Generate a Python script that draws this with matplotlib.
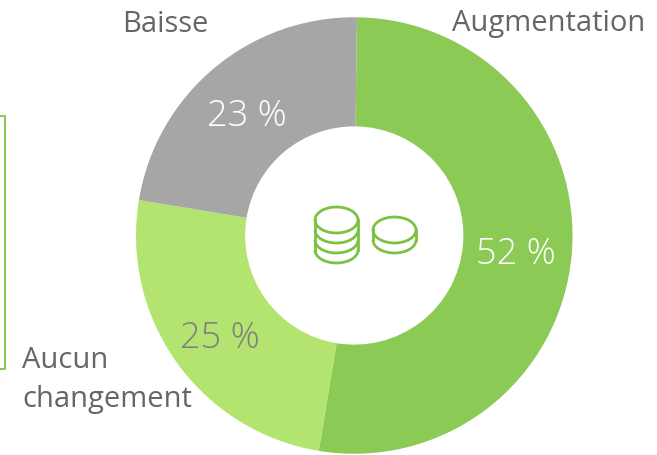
import matplotlib.pyplot as plt
from matplotlib.patches import Ellipse, Arc

plt.rcParams['font.family'] = ['Open Sans', 'DejaVu Sans']

W, H = 657, 455

categories = ['Augmentation', 'Aucun\nchangement', 'Baisse']
# slice sizes, labels are the rounded ones it prints
shares = [52.4, 25.0, 22.6]
value_labels = ['52 %', '25 %', '23 %']
colors = ['#8aca55', '#b3e46f', '#a6a6a6']
value_colors = ['white', '#808080', 'white']
ICON = '#7cc242'
FRAME = '#8aca55'
TEXT = '#666666'


def coin(ax, cx, cy, rx, ry, rims, step):
    # top ellipse plus the lower rims under it
    ax.add_patch(Ellipse((cx, cy), 2 * rx, 2 * ry, fc='none', ec=ICON, lw=2, zorder=6))
    for i in range(1, rims + 1):
        ax.add_patch(Arc((cx, cy + i * step), 2 * rx, 2 * ry, theta1=0, theta2=180, ec=ICON, lw=2, zorder=5))
    ax.plot([cx - rx, cx - rx], [cy, cy + rims * step], color=ICON, lw=2, zorder=5)
    ax.plot([cx + rx, cx + rx], [cy, cy + rims * step], color=ICON, lw=2, zorder=5)


fig = plt.figure(figsize=(W / 100, H / 100), dpi=100)

pie_ax = fig.add_axes([136 / W, 1 - 454 / H, 436.5 / W, 437 / H])
pie_ax.pie(shares, colors=colors, startangle=89.3, counterclock=False,
           radius=1, wedgeprops={'width': 0.5, 'linewidth': 0})
pie_ax.set_xlim(-1, 1)
pie_ax.set_ylim(-1, 1)
pie_ax.patch.set_alpha(0)

# pixel overlay for labels, frame and icon
ax = fig.add_axes([0, 0, 1, 1])
ax.set_xlim(0, W)
ax.set_ylim(H, 0)
ax.axis('off')
ax.patch.set_alpha(0)

# partly hidden frame on the left
ax.plot([0, 5, 5, 0], [116, 116, 369, 369], color=FRAME, lw=1.5)

ax.text(165.5, 24, categories[2], fontsize=21, color=TEXT, ha='center', va='center')
ax.text(549, 24, categories[0], fontsize=21, color=TEXT, ha='center', va='center')
ax.text(22, 380, categories[1], fontsize=21, color=TEXT, ha='left', va='center', linespacing=1.43)

ax.text(515.5, 255, value_labels[0], fontsize=26, color=value_colors[0], ha='center', va='center', fontweight='light')
ax.text(220, 338, value_labels[1], fontsize=26, color=value_colors[1], ha='center', va='center', fontweight='light')
ax.text(247, 117, value_labels[2], fontsize=26, color=value_colors[2], ha='center', va='center', fontweight='light')

# coin stacks
coin(ax, 336.5, 220, 21.5, 13, 3, 10)
coin(ax, 394.5, 230, 21.5, 13, 1, 10)

fig.savefig('out.png', dpi=100)
